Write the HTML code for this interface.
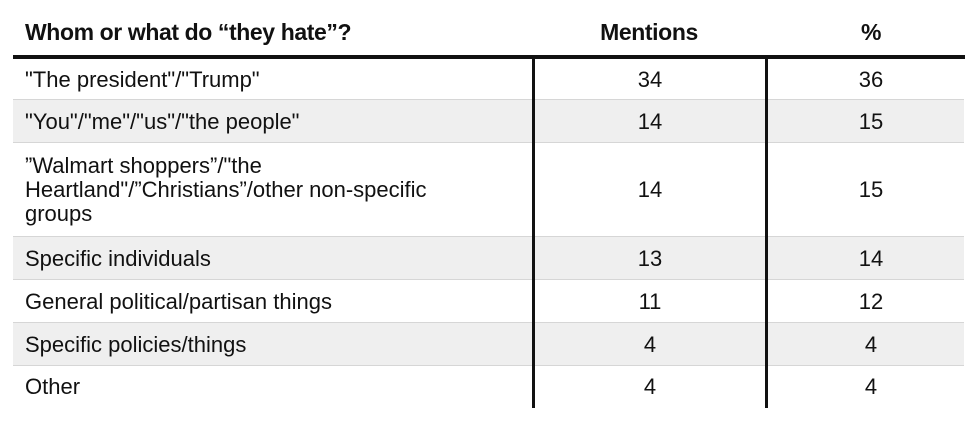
<!DOCTYPE html>
<html><head><meta charset="utf-8"><style>
body{margin:0;width:980px;height:428px;background:#fff;font-family:"Liberation Sans",sans-serif;color:#111;position:relative;overflow:hidden}
.a{position:absolute}
.hd{font-weight:bold;font-size:23px;top:19px;letter-spacing:-0.4px}
.row{position:absolute;left:13px;width:951px;border-bottom:1px solid #d6d6d6}
.g{background:#efefef}
.lab{position:absolute;left:12px;font-size:22px;line-height:24px}
.num{position:absolute;font-size:22px;width:100px;text-align:center;margin-left:-50px}
.v{position:absolute;top:58px;height:350px;width:3px;background:#111}
</style></head><body>
<div class="a hd" style="left:25px">Whom or what do “they hate”?</div>
<div class="a hd" style="left:594px;width:110px;text-align:center">Mentions</div>
<div class="a hd" style="left:861px">%</div>
<div class="a" style="left:13px;top:55px;width:952px;height:4px;background:#111"></div>
<div id="rows"></div>
<div class="v" style="left:532px"></div>
<div class="v" style="left:765px"></div>
<script>
const labels=['"The president"/"Trump"','"You"/"me"/"us"/"the people"','”Walmart shoppers”/"the<br>Heartland"/”Christians”/other non-specific<br>groups','Specific individuals','General political/partisan things','Specific policies/things','Other'];
const mentions=[34,14,14,13,11,4,4];
const percents=[36,15,15,14,12,4,4];
const tops=[59,100,143,237,280,323,366],hs=[41,43,94,43,43,43,42];
const c=document.getElementById('rows');
labels.forEach((l,i)=>{
const r=document.createElement('div');


r.className='row'+(i%2?' g':'');
r.style.top=tops[i]+'px';r.style.height=(hs[i]-1)+'px';
if(i==6)r.style.borderBottom='none';
const lines=(l.match(/<br>/g)||[]).length+1;
const ty=(hs[i]-lines*24)/2;
r.innerHTML=`<div class="lab" style="top:${ty}px">${l}</div><div class="num" style="left:637px;top:${(hs[i]-24)/2}px;line-height:24px">${mentions[i]}</div><div class="num" style="left:858px;top:${(hs[i]-24)/2}px;line-height:24px">${percents[i]}</div>`;
c.appendChild(r);
});
</script>
</body></html>
